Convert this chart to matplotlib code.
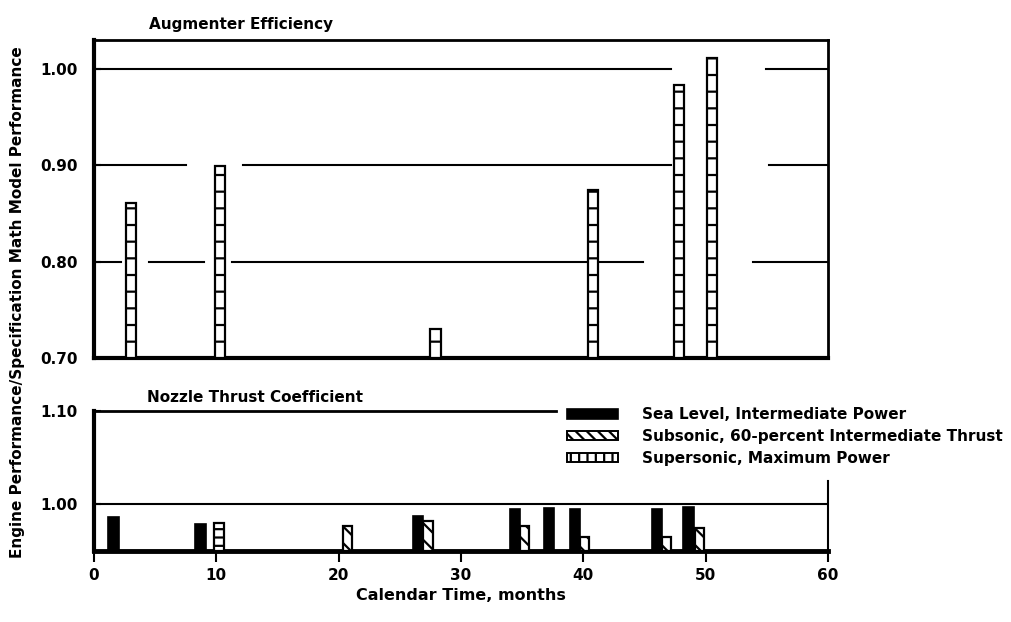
import matplotlib
matplotlib.use("Agg")
import matplotlib.pyplot as plt
from matplotlib.patches import Patch

plt.rcParams['font.family'] = ['Liberation Sans Narrow', 'DejaVu Sans']
plt.rcParams['font.weight'] = 'bold'
plt.rcParams['hatch.linewidth'] = 1.6

# Augmenter efficiency (supersonic, maximum power)
aug_months = [3.0, 10.3, 27.9, 40.8, 47.8, 50.5]
aug_values = [0.861, 0.899, 0.730, 0.874, 0.983, 1.012]

# Nozzle thrust coefficient
sea_months = [1.6, 8.7, 26.5, 34.4, 37.2, 39.3, 46.0, 48.6]
sea_values = [0.987, 0.979, 0.988, 0.995, 0.996, 0.995, 0.995, 0.997]
sub_months = [20.7, 27.3, 35.2, 40.1, 46.8, 49.5]
sub_values = [0.977, 0.982, 0.977, 0.965, 0.965, 0.975]
sup_months = [10.2]
sup_values = [0.980]

legend_labels = ["Sea Level, Intermediate Power",
                 "Subsonic, 60-percent Intermediate Thrust",
                 "Supersonic, Maximum Power"]

top_yticks = [0.70, 0.80, 0.90, 1.00]
bot_yticks = [1.00, 1.10]
xticks = [0, 10, 20, 30, 40, 50, 60]

# hand-drawn grid lines in the top panel have gaps: (y, [(x0, x1), ...])
top_grid = [
    (1.00, [(0, 47.2), (54.9, 60)]),
    (0.90, [(0, 7.5), (12.2, 47.2), (55.2, 60)]),
    (0.80, [(0, 2.2), (4.5, 9.0), (11.3, 44.9), (53.9, 60)]),
]

W = 0.85
fig = plt.figure(figsize=(10.11, 6.22), dpi=100)
ax1 = fig.add_axes([0.093, 0.4244, 0.726, 0.511])
ax2 = fig.add_axes([0.093, 0.1141, 0.726, 0.225])

# top panel
for y, segs in top_grid:
    for x0, x1 in segs:
        ax1.plot([x0, x1], [y, y], color="black", lw=1.5, zorder=1)
ax1.bar(aug_months, [v - 0.70 for v in aug_values], bottom=0.70, width=W,
        color="white", edgecolor="black", hatch="-", linewidth=1.6, zorder=3)
ax1.set_xlim(0, 60)
ax1.set_ylim(0.70, 1.03)
ax1.set_yticks(top_yticks)
ax1.set_yticklabels([f"{t:.2f}" for t in top_yticks])
ax1.set_xticks([])
ax1.tick_params(axis="y", direction="in", length=5, width=1.5, pad=12, labelsize=11)
for s in ["left", "bottom"]:
    ax1.spines[s].set_linewidth(3)
for s in ["top", "right"]:
    ax1.spines[s].set_linewidth(2)
ax1.text(0.075, 1.025, "Augmenter Efficiency", transform=ax1.transAxes,
         fontsize=11, fontweight="bold", ha="left", va="bottom")

# bottom panel
ax2.axhline(1.00, color="black", lw=1.5, zorder=1)
ax2.bar(sea_months, [v - 0.95 for v in sea_values], bottom=0.95, width=W,
        color="black", edgecolor="black", linewidth=1.2, zorder=3)
ax2.bar(sub_months, [v - 0.95 for v in sub_values], bottom=0.95, width=W * 0.9,
        color="white", edgecolor="black", hatch="\\\\", linewidth=1.6, zorder=3)
ax2.bar(sup_months, [v - 0.95 for v in sup_values], bottom=0.95, width=W,
        color="white", edgecolor="black", hatch="--", linewidth=1.6, zorder=3)
ax2.set_xlim(0, 60)
ax2.set_ylim(0.95, 1.10)
ax2.set_yticks(bot_yticks)
ax2.set_yticklabels([f"{t:.2f}" for t in bot_yticks])
ax2.set_xticks(xticks)
ax2.tick_params(axis="y", direction="in", length=5, width=1.5, pad=12, labelsize=11)
ax2.tick_params(axis="x", direction="out", length=8, width=1.5, pad=4, labelsize=11)
ax2.spines["left"].set_linewidth(3)
ax2.spines["bottom"].set_linewidth(3.5)
ax2.spines["top"].set_linewidth(2)
ax2.spines["right"].set_linewidth(1.5)
ax2.spines["top"].set_bounds(0, 37.8)
ax2.spines["right"].set_bounds(0.95, 1.025)
ax2.text(0.072, 1.04, "Nozzle Thrust Coefficient", transform=ax2.transAxes,
         fontsize=11, fontweight="bold", ha="left", va="bottom")
ax2.set_xlabel("Calendar Time, months", fontsize=11.5, fontweight="bold", labelpad=4)

handles = [
    Patch(facecolor="black", edgecolor="black", linewidth=1.2),
    Patch(facecolor="white", edgecolor="black", hatch="\\\\\\", linewidth=1.4),
    Patch(facecolor="white", edgecolor="black", hatch="||", linewidth=1.4),
]
fig.legend(handles, legend_labels, loc="upper left", bbox_to_anchor=(0.561, 0.345),
           frameon=False, fontsize=11, handlelength=3.3, handleheight=0.55,
           handletextpad=1.6, labelspacing=0.45, borderpad=0, borderaxespad=0)

fig.text(0.017, 0.515, "Engine Performance/Specification Math Model Performance",
         rotation=90, fontsize=11, fontweight="bold", ha="center", va="center")

fig.savefig("out.png", dpi=100)
